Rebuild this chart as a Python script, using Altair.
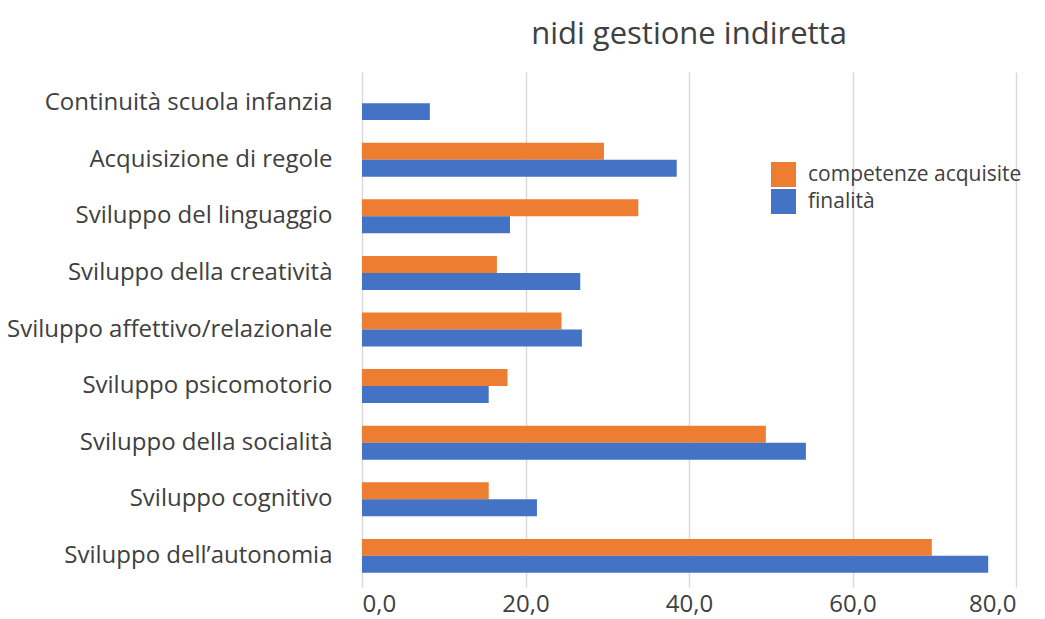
import altair as alt
import pandas as pd

categories = [
    "Continuità scuola infanzia",
    "Acquisizione di regole",
    "Sviluppo del linguaggio",
    "Sviluppo della creatività",
    "Sviluppo affettivo/relazionale",
    "Sviluppo psicomotorio",
    "Sviluppo della socialità",
    "Sviluppo cognitivo",
    "Sviluppo dell\u2019autonomia",
]
competenze = [None, 29.6, 33.8, 16.5, 24.4, 17.8, 49.4, 15.5, 69.7]
finalita = [8.3, 38.5, 18.1, 26.7, 26.9, 15.5, 54.3, 21.4, 76.6]
series_names = ["competenze acquisite", "finalità"]
series_colors = ["#ED7D31", "#4472C4"]
x_ticks = [0, 20, 40, 60, 80]

rows = []
for c, a, b in zip(categories, competenze, finalita):
    if a is not None:
        rows.append({"cat": c, "series": series_names[0], "value": a})
    rows.append({"cat": c, "series": series_names[1], "value": b})
df = pd.DataFrame(rows)

FONT = "Open Sans"
TXT = "#404040"

chart = alt.Chart(df).mark_bar().encode(
    y=alt.Y("cat:N", sort=categories,
            scale=alt.Scale(paddingInner=0.4, paddingOuter=0.25),
            axis=alt.Axis(title=None, domain=False, ticks=False, labelPadding=30,
                          labelFontSize=24, labelColor=TXT, labelFont=FONT,
                          labelLimit=400)),
    yOffset=alt.YOffset("series:N", sort=series_names),
    x=alt.X("value:Q", scale=alt.Scale(domain=[0, 80], nice=False),
            axis=alt.Axis(title=None, values=x_ticks, domain=False, ticks=False,
                          labelPadding=5, labelFontSize=24, labelColor=TXT, labelFont=FONT,
                          gridColor="#d9d9d9", gridWidth=1.5,
                          labelExpr="replace(format(datum.value, '.1f'), '.', ',')")),
    color=alt.Color("series:N", sort=series_names,
                    scale=alt.Scale(domain=series_names, range=series_colors),
                    legend=alt.Legend(title=None, orient="none", legendX=409, legendY=90,
                                      symbolType="square", symbolSize=625,
                                      symbolStrokeWidth=0, labelFontSize=21,
                                      labelColor=TXT, labelFont=FONT, labelOffset=12,
                                      rowPadding=2, labelLimit=400)),
).properties(
    width=654,
    height=515,
    title=alt.TitleParams("nidi gestione indiretta", fontSize=31, font=FONT,
                          fontWeight="normal", color=TXT, anchor="middle", offset=21),
    autosize=alt.AutoSizeParams(type="none"),
    padding={"left": 354, "top": 64, "right": 20, "bottom": 30},
).configure_view(stroke=None)

chart.save("out.html", embed_options={"renderer": "svg", "actions": False})
